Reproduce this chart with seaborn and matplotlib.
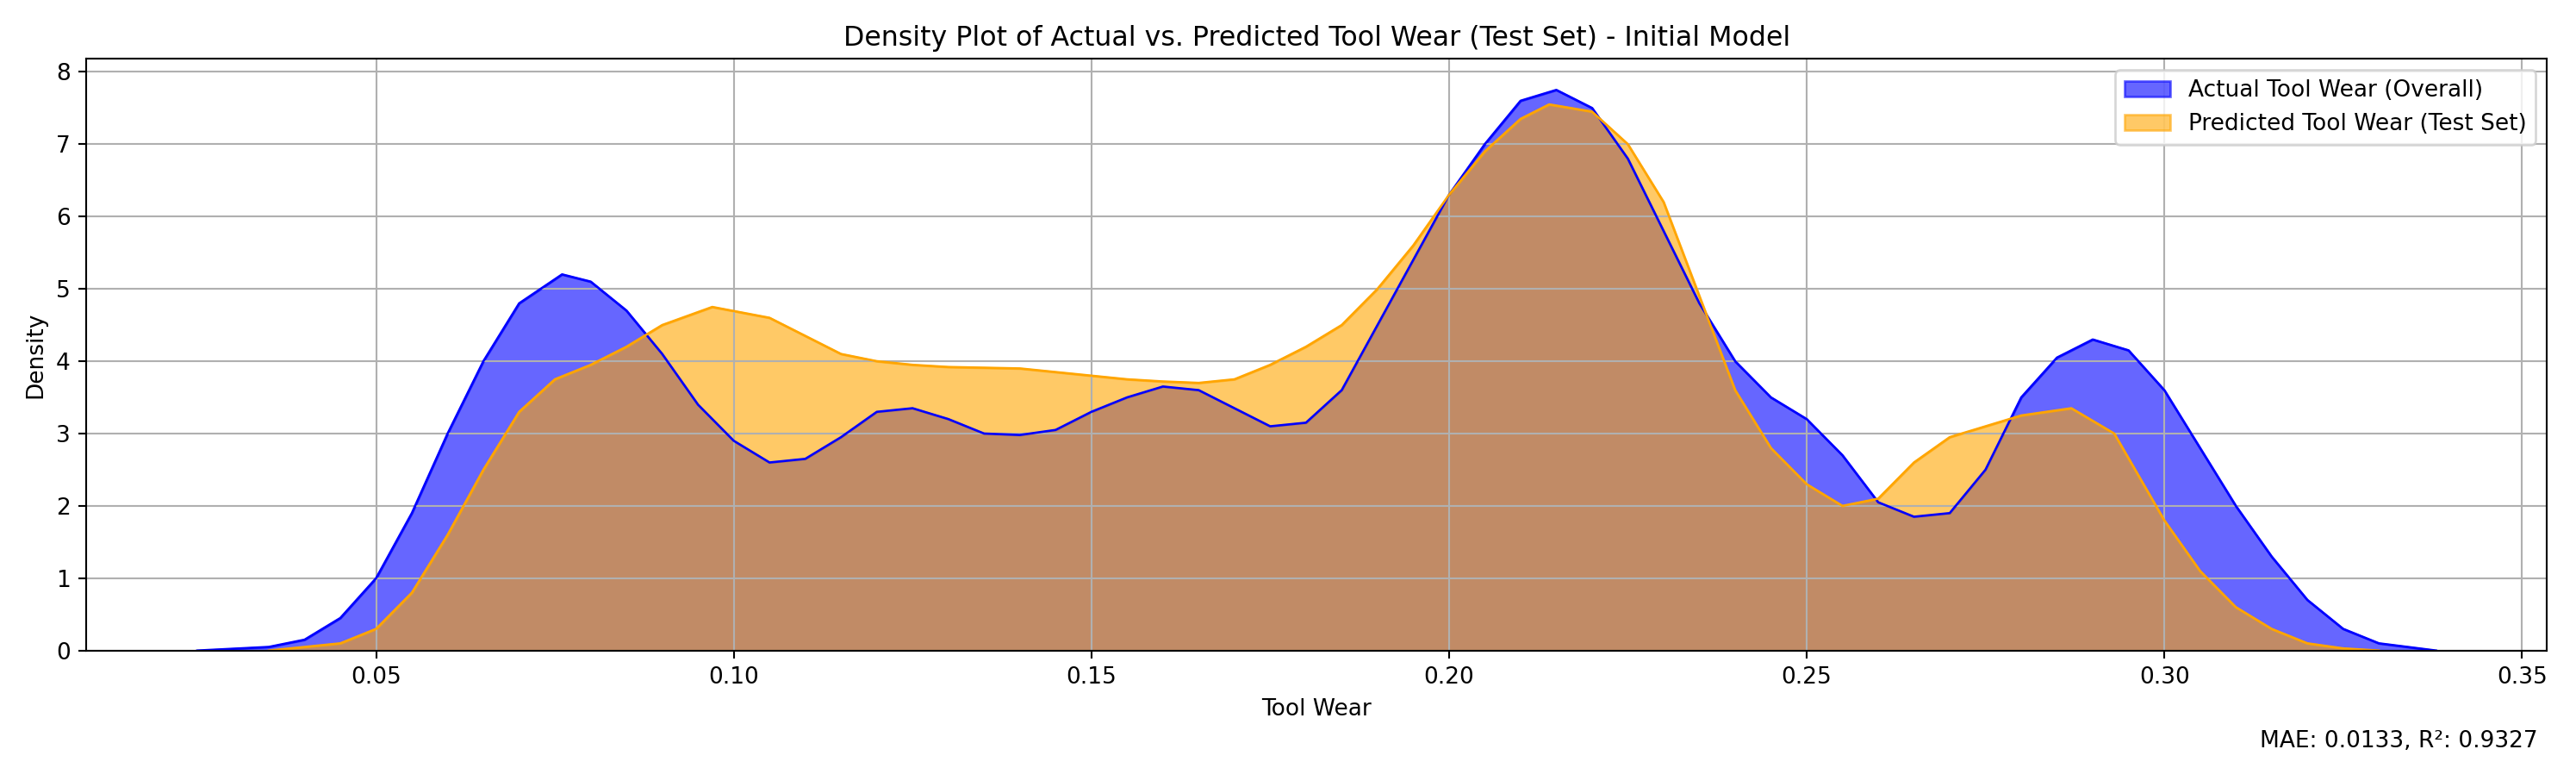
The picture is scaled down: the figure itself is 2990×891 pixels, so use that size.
import matplotlib.pyplot as plt
import seaborn as sns
import pandas as pd

# density values
actual_x = [0.025, 0.035, 0.04, 0.045, 0.05, 0.055, 0.06, 0.065, 0.07, 0.076, 0.08, 0.085, 0.09, 0.095, 0.10,
            0.105, 0.11, 0.115, 0.12, 0.125, 0.13, 0.135, 0.14, 0.145, 0.15, 0.155, 0.16, 0.165, 0.17, 0.175,
            0.18, 0.185, 0.19, 0.195, 0.20, 0.205, 0.21, 0.215, 0.22, 0.225, 0.23, 0.235, 0.24, 0.245, 0.25,
            0.255, 0.26, 0.265, 0.27, 0.275, 0.28, 0.285, 0.29, 0.295, 0.30, 0.305, 0.31, 0.315, 0.32, 0.325,
            0.33, 0.338]
actual_y = [0.0, 0.05, 0.15, 0.45, 1.0, 1.9, 3.0, 4.0, 4.8, 5.2, 5.1, 4.7, 4.1, 3.4, 2.9,
            2.6, 2.65, 2.95, 3.3, 3.35, 3.2, 3.0, 2.98, 3.05, 3.3, 3.5, 3.65, 3.6, 3.35, 3.1,
            3.15, 3.6, 4.5, 5.4, 6.3, 7.0, 7.6, 7.75, 7.5, 6.8, 5.8, 4.8, 4.0, 3.5, 3.2,
            2.7, 2.05, 1.85, 1.9, 2.5, 3.5, 4.05, 4.3, 4.15, 3.6, 2.8, 2.0, 1.3, 0.7, 0.3,
            0.1, 0.0]
pred_x = [0.035, 0.045, 0.05, 0.055, 0.06, 0.065, 0.07, 0.075, 0.08, 0.085, 0.09, 0.097, 0.105, 0.11,
          0.115, 0.12, 0.125, 0.13, 0.14, 0.15, 0.155, 0.16, 0.165, 0.17, 0.175, 0.18, 0.185, 0.19,
          0.195, 0.20, 0.205, 0.21, 0.214, 0.22, 0.225, 0.23, 0.235, 0.24, 0.245, 0.25, 0.255, 0.26,
          0.265, 0.27, 0.275, 0.28, 0.287, 0.293, 0.30, 0.305, 0.31, 0.315, 0.32, 0.325, 0.33]
pred_y = [0.0, 0.1, 0.3, 0.8, 1.6, 2.5, 3.3, 3.75, 3.95, 4.2, 4.5, 4.75, 4.6, 4.35,
          4.1, 4.0, 3.95, 3.92, 3.9, 3.8, 3.75, 3.72, 3.7, 3.75, 3.95, 4.2, 4.5, 5.0,
          5.6, 6.3, 6.9, 7.35, 7.55, 7.45, 7.0, 6.2, 4.9, 3.6, 2.8, 2.3, 2.0, 2.1,
          2.6, 2.95, 3.1, 3.25, 3.35, 3.0, 1.8, 1.1, 0.6, 0.3, 0.1, 0.03, 0.0]

actual_df = pd.DataFrame({'Tool Wear': actual_x, 'Density': actual_y})
pred_df = pd.DataFrame({'Tool Wear': pred_x, 'Density': pred_y})

fig, ax = plt.subplots(figsize=(15.74, 4.69), dpi=190)
sns.lineplot(x='Tool Wear', y='Density', data=actual_df, color='blue', linewidth=1, ax=ax)
ax.fill_between(actual_df['Tool Wear'], actual_df['Density'], color='blue', alpha=0.6,
                label='Actual Tool Wear (Overall)', edgecolor='blue')
sns.lineplot(x='Tool Wear', y='Density', data=pred_df, color='orange', linewidth=1, ax=ax)
ax.fill_between(pred_df['Tool Wear'], pred_df['Density'], color='orange', alpha=0.6,
                label='Predicted Tool Wear (Test Set)', edgecolor='orange')

ax.set_xlim(0.0095, 0.3535)
ax.set_ylim(0, 8.18)
ax.grid(True)
ax.set_title("Density Plot of Actual vs. Predicted Tool Wear (Test Set) - Initial Model")
ax.set_xlabel("Tool Wear")
ax.set_ylabel("Density")
ax.legend(loc='upper right')
fig.text(0.985, 0.02, "MAE: 0.0133, R²: 0.9327", ha='right', va='bottom', fontsize=10)
plt.tight_layout(rect=(0, 0.03, 1, 1))
plt.savefig("out.png")
